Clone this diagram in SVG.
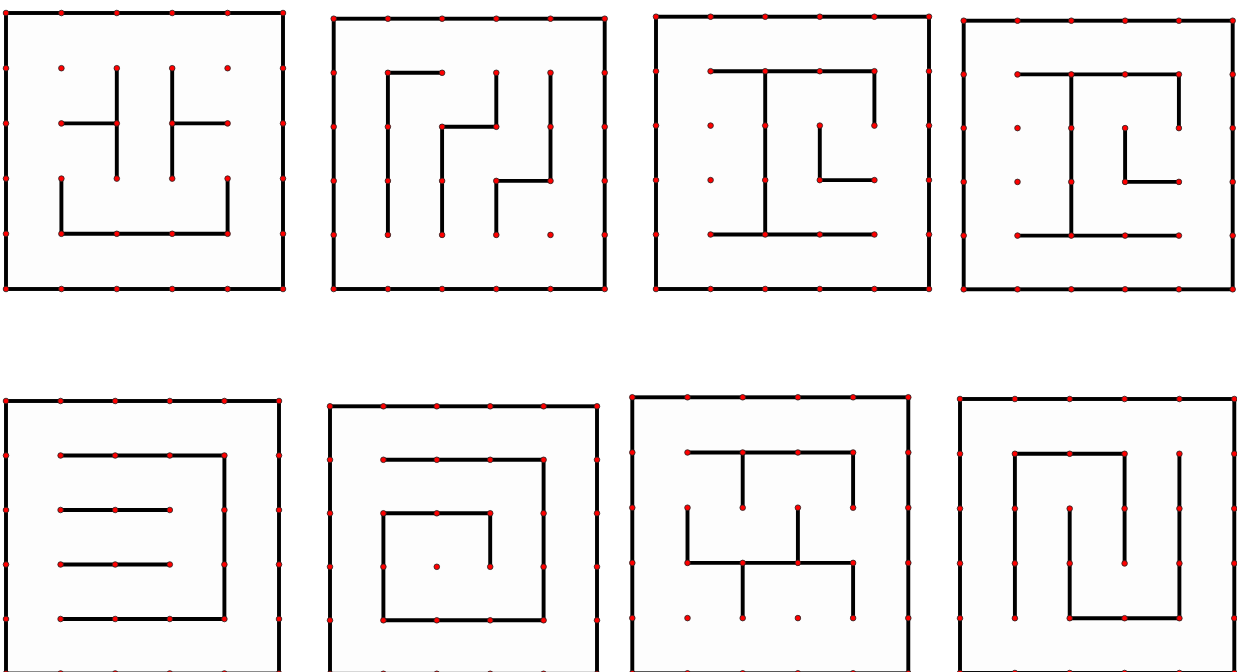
<svg xmlns="http://www.w3.org/2000/svg" width="1237" height="672" viewBox="0 0 1237 672">
<style>
.wall{fill:none;stroke:#000;stroke-width:3.9;stroke-linejoin:miter;stroke-linecap:butt}
.frame{fill:#fdfdfd;stroke:#000;stroke-width:3.9}
.dots{fill:none;stroke:none;marker-start:url(#dot);marker-mid:url(#dot);marker-end:url(#dot)}
</style>
<defs>
<marker id="dot" markerUnits="userSpaceOnUse" markerWidth="8" markerHeight="8" refX="4" refY="4" viewBox="0 0 8 8" overflow="visible">
<circle cx="4" cy="4" r="2.8" fill="#ff0000" stroke="#222" stroke-width="0.8"/>
</marker>
</defs>
<rect width="1237" height="672" fill="#fff"/>

<g id="panel1">
<rect class="frame" x="6" y="13" width="277" height="276"/>
<path class="wall" d="M116.8 68.2V178.6M61.4 123.4H116.8M172.2 68.2V178.6M172.2 123.4H227.6M61.4 178.6V233.8H227.6V178.6"/>
<path class="dots" d="M6 13H61.4H116.8H172.2H227.6H283M6 68.2H61.4H116.8H172.2H227.6H283M6 123.4H61.4H116.8H172.2H227.6H283M6 178.6H61.4H116.8H172.2H227.6H283M6 233.8H61.4H116.8H172.2H227.6H283M6 289H61.4H116.8H172.2H227.6H283"/>
</g>

<g id="panel2">
<rect class="frame" x="333.7" y="18.7" width="271" height="270.3"/>
<path class="wall" d="M442.1 72.8H387.9V234.9M442.1 234.9V126.8H496.3V72.8M550.5 72.8V180.9H496.3V234.9"/>
<path class="dots" d="M333.7 18.7H387.9H442.1H496.3H550.5H604.7M333.7 72.8H387.9H442.1H496.3H550.5H604.7M333.7 126.8H387.9H442.1H496.3H550.5H604.7M333.7 180.9H387.9H442.1H496.3H550.5H604.7M333.7 234.9H387.9H442.1H496.3H550.5H604.7M333.7 289H387.9H442.1H496.3H550.5H604.7"/>
</g>

<g id="panel3">
<rect class="frame" x="656" y="16.7" width="273" height="272.3"/>
<path class="wall" d="M710.6 71.2H874.4V125.6M765.2 71.2V234.5M710.6 234.5H874.4M819.8 125.6V180.1H874.4"/>
<path class="dots" d="M656 16.7H710.6H765.2H819.8H874.4H929M656 71.2H710.6H765.2H819.8H874.4H929M656 125.6H710.6H765.2H819.8H874.4H929M656 180.1H710.6H765.2H819.8H874.4H929M656 234.5H710.6H765.2H819.8H874.4H929M656 289H710.6H765.2H819.8H874.4H929"/>
</g>

<g id="panel4">
<rect class="frame" x="963.7" y="20.7" width="269" height="268.6"/>
<path class="wall" d="M1017.5 74.4H1178.9V128.1M1071.3 74.4V235.6M1017.5 235.6H1178.9M1125.1 128.1V181.9H1178.9"/>
<path class="dots" d="M963.7 20.7H1017.5H1071.3H1125.1H1178.9H1232.7M963.7 74.4H1017.5H1071.3H1125.1H1178.9H1232.7M963.7 128.1H1017.5H1071.3H1125.1H1178.9H1232.7M963.7 181.9H1017.5H1071.3H1125.1H1178.9H1232.7M963.7 235.6H1017.5H1071.3H1125.1H1178.9H1232.7M963.7 289.3H1017.5H1071.3H1125.1H1178.9H1232.7"/>
</g>

<g id="panel5">
<rect class="frame" x="6" y="401" width="273" height="272.5"/>
<path class="wall" d="M60.6 455.5H224.4V619H60.6M60.6 510H169.8M60.6 564.5H169.8"/>
<path class="dots" d="M6 401H60.6H115.2H169.8H224.4H279M6 455.5H60.6H115.2H169.8H224.4H279M6 510H60.6H115.2H169.8H224.4H279M6 564.5H60.6H115.2H169.8H224.4H279M6 619H60.6H115.2H169.8H224.4H279M6 673.5H60.6H115.2H169.8H224.4H279"/>
</g>

<g id="panel6">
<rect class="frame" x="330" y="406.3" width="267" height="267.5"/>
<path class="wall" d="M383.4 459.8H543.6V620.3H383.4V513.3H490.2V566.8"/>
<path class="dots" d="M330 406.3H383.4H436.8H490.2H543.6H597M330 459.8H383.4H436.8H490.2H543.6H597M330 513.3H383.4H436.8H490.2H543.6H597M330 566.8H383.4H436.8H490.2H543.6H597M330 620.3H383.4H436.8H490.2H543.6H597M330 673.8H383.4H436.8H490.2H543.6H597"/>
</g>

<g id="panel7">
<rect class="frame" x="632.3" y="397.3" width="276" height="276"/>
<path class="wall" d="M687.5 452.5H853.1V507.7M742.7 452.5V507.7M687.5 507.7V562.9H853.1V618.1M797.9 507.7V562.9M742.7 562.9V618.1"/>
<path class="dots" d="M632.3 397.3H687.5H742.7H797.9H853.1H908.3M632.3 452.5H687.5H742.7H797.9H853.1H908.3M632.3 507.7H687.5H742.7H797.9H853.1H908.3M632.3 562.9H687.5H742.7H797.9H853.1H908.3M632.3 618.1H687.5H742.7H797.9H853.1H908.3M632.3 673.3H687.5H742.7H797.9H853.1H908.3"/>
</g>

<g id="panel8">
<rect class="frame" x="960" y="399" width="274.3" height="274"/>
<path class="wall" d="M1014.9 618.2V453.8H1124.6V563.4M1179.4 453.8V618.2H1069.7V508.6"/>
<path class="dots" d="M960 399H1014.9H1069.7H1124.6H1179.4H1234.3M960 453.8H1014.9H1069.7H1124.6H1179.4H1234.3M960 508.6H1014.9H1069.7H1124.6H1179.4H1234.3M960 563.4H1014.9H1069.7H1124.6H1179.4H1234.3M960 618.2H1014.9H1069.7H1124.6H1179.4H1234.3M960 673H1014.9H1069.7H1124.6H1179.4H1234.3"/>
</g>
</svg>
